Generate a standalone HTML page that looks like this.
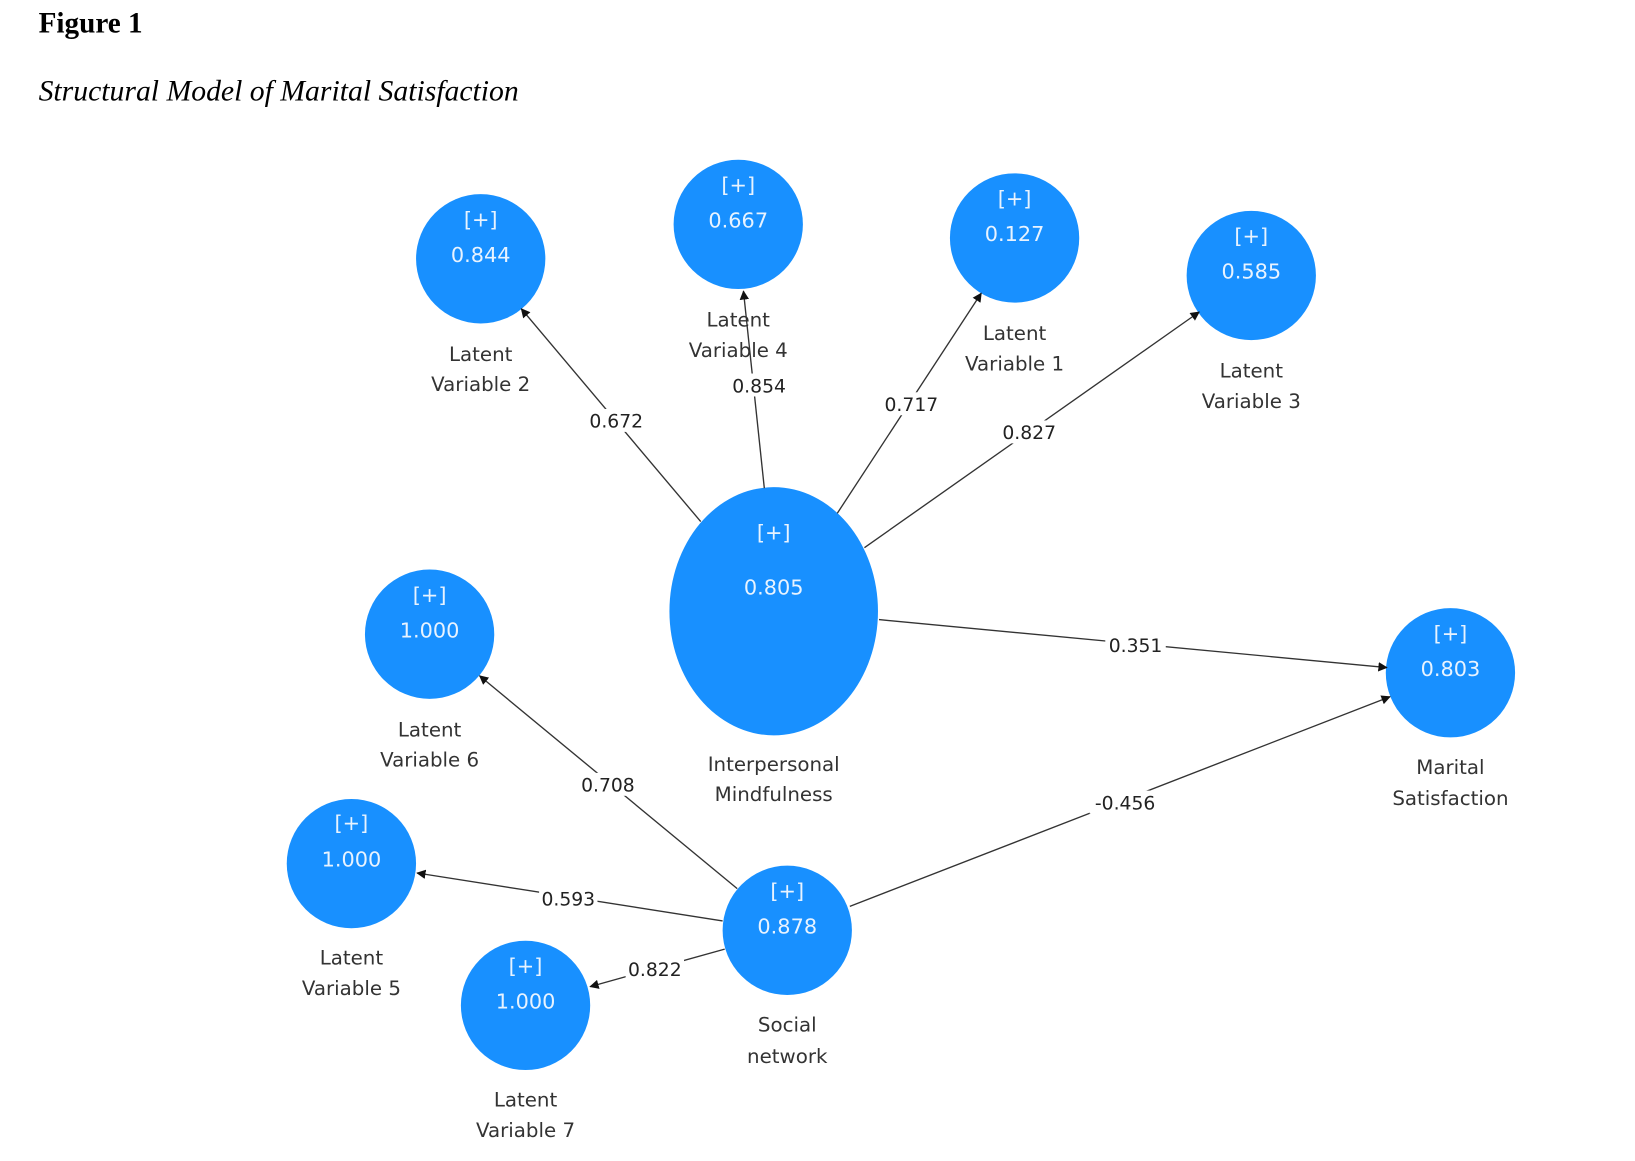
<!DOCTYPE html>
<html><head><meta charset="utf-8"><style>
html,body{margin:0;padding:0;background:#fff;width:1635px;height:1161px;overflow:hidden}
svg{display:block}
.v{font-family:"DejaVu Sans","Liberation Sans",sans-serif;font-size:20px;fill:#e8f3ff;text-anchor:middle}
.n{font-family:"DejaVu Sans","Liberation Sans",sans-serif;font-size:19px;fill:#333;text-anchor:middle}
.e{font-family:"DejaVu Sans","Liberation Sans",sans-serif;font-size:18px;fill:#222;text-anchor:middle}
line{stroke:#333;stroke-width:1.3}
</style></head><body>
<svg width="1635" height="1161" viewBox="0 0 1568 1113">
<defs><marker id="a" viewBox="0 0 10 10" refX="9" refY="5" markerWidth="9" markerHeight="9" orient="auto" markerUnits="userSpaceOnUse"><path d="M0,0 L10,5 L0,10 z" fill="#111"/></marker></defs>
<text x="37" y="31" font-family="Liberation Serif,serif" font-weight="bold" font-size="28">Figure 1</text>
<text x="37" y="96" font-family="Liberation Serif,serif" font-style="italic" font-size="28.5">Structural Model of Marital Satisfaction</text>

<g fill="#1890ff">
<circle cx="461" cy="248" r="62"/><circle cx="708" cy="215" r="62"/><circle cx="973" cy="228" r="62"/><circle cx="1200" cy="264" r="62"/>
<ellipse cx="742" cy="586" rx="100" ry="119"/>
<circle cx="412" cy="608" r="62"/><circle cx="1391" cy="645" r="62"/><circle cx="337" cy="828" r="62"/><circle cx="755" cy="892" r="62"/><circle cx="504" cy="964" r="62"/>
</g>

<g>
<line x1="672" y1="500" x2="500" y2="296" marker-end="url(#a)"/>
<line x1="733" y1="468" x2="713" y2="279" marker-end="url(#a)"/>
<line x1="803" y1="492" x2="941" y2="281" marker-end="url(#a)"/>
<line x1="829" y1="525" x2="1150" y2="299" marker-end="url(#a)"/>
<line x1="843" y1="594" x2="1330" y2="640" marker-end="url(#a)"/>
<line x1="707" y1="852" x2="460" y2="648" marker-end="url(#a)"/>
<line x1="693" y1="883" x2="400" y2="837" marker-end="url(#a)"/>
<line x1="695" y1="910" x2="566" y2="946" marker-end="url(#a)"/>
<line x1="815" y1="869" x2="1333" y2="668" marker-end="url(#a)"/>
</g>

<g class="n">
<text x="461" y="346">Latent</text><text x="461" y="375">Variable 2</text>
<text x="708" y="313">Latent</text><text x="708" y="342">Variable 4</text>
<text x="973" y="326">Latent</text><text x="973" y="355">Variable 1</text>
<text x="1200" y="362">Latent</text><text x="1200" y="391">Variable 3</text>
<text x="742" y="739">Interpersonal</text><text x="742" y="768">Mindfulness</text>
<text x="412" y="706">Latent</text><text x="412" y="735">Variable 6</text>
<text x="1391" y="742">Marital</text><text x="1391" y="772">Satisfaction</text>
<text x="337" y="925">Latent</text><text x="337" y="954">Variable 5</text>
<text x="755" y="989">Social</text><text x="755" y="1019">network</text>
<text x="504" y="1061">Latent</text><text x="504" y="1090">Variable 7</text>
</g>

<g fill="#fff">
<rect x="564" y="392" width="54" height="22"/><rect x="702" y="358" width="52" height="22"/><rect x="846" y="376" width="56" height="22"/>
<rect x="958" y="403" width="58" height="22"/><rect x="1060" y="607" width="58" height="22"/><rect x="554" y="741" width="58" height="22"/>
<rect x="517" y="850" width="56" height="22"/><rect x="600" y="918" width="56" height="22"/><rect x="1045" y="758" width="66" height="22"/>
</g>
<g class="e">
<text x="591" y="410">0.672</text><text x="728" y="376">0.854</text><text x="874" y="394">0.717</text>
<text x="987" y="421">0.827</text><text x="1089" y="625">0.351</text><text x="583" y="759">0.708</text>
<text x="545" y="868">0.593</text><text x="628" y="936">0.822</text><text x="1079" y="776">-0.456</text>
</g>

<g class="v">
<text x="461" y="217">[+]</text><text x="461" y="251">0.844</text>
<text x="708" y="184">[+]</text><text x="708" y="218">0.667</text>
<text x="973" y="197">[+]</text><text x="973" y="231">0.127</text>
<text x="1200" y="233">[+]</text><text x="1200" y="267">0.585</text>
<text x="742" y="517">[+]</text><text x="742" y="570">0.805</text>
<text x="412" y="577">[+]</text><text x="412" y="611">1.000</text>
<text x="1391" y="614">[+]</text><text x="1391" y="648">0.803</text>
<text x="337" y="796">[+]</text><text x="337" y="831">1.000</text>
<text x="755" y="861">[+]</text><text x="755" y="895">0.878</text>
<text x="504" y="933">[+]</text><text x="504" y="967">1.000</text>
</g>
</svg>
</body></html>
